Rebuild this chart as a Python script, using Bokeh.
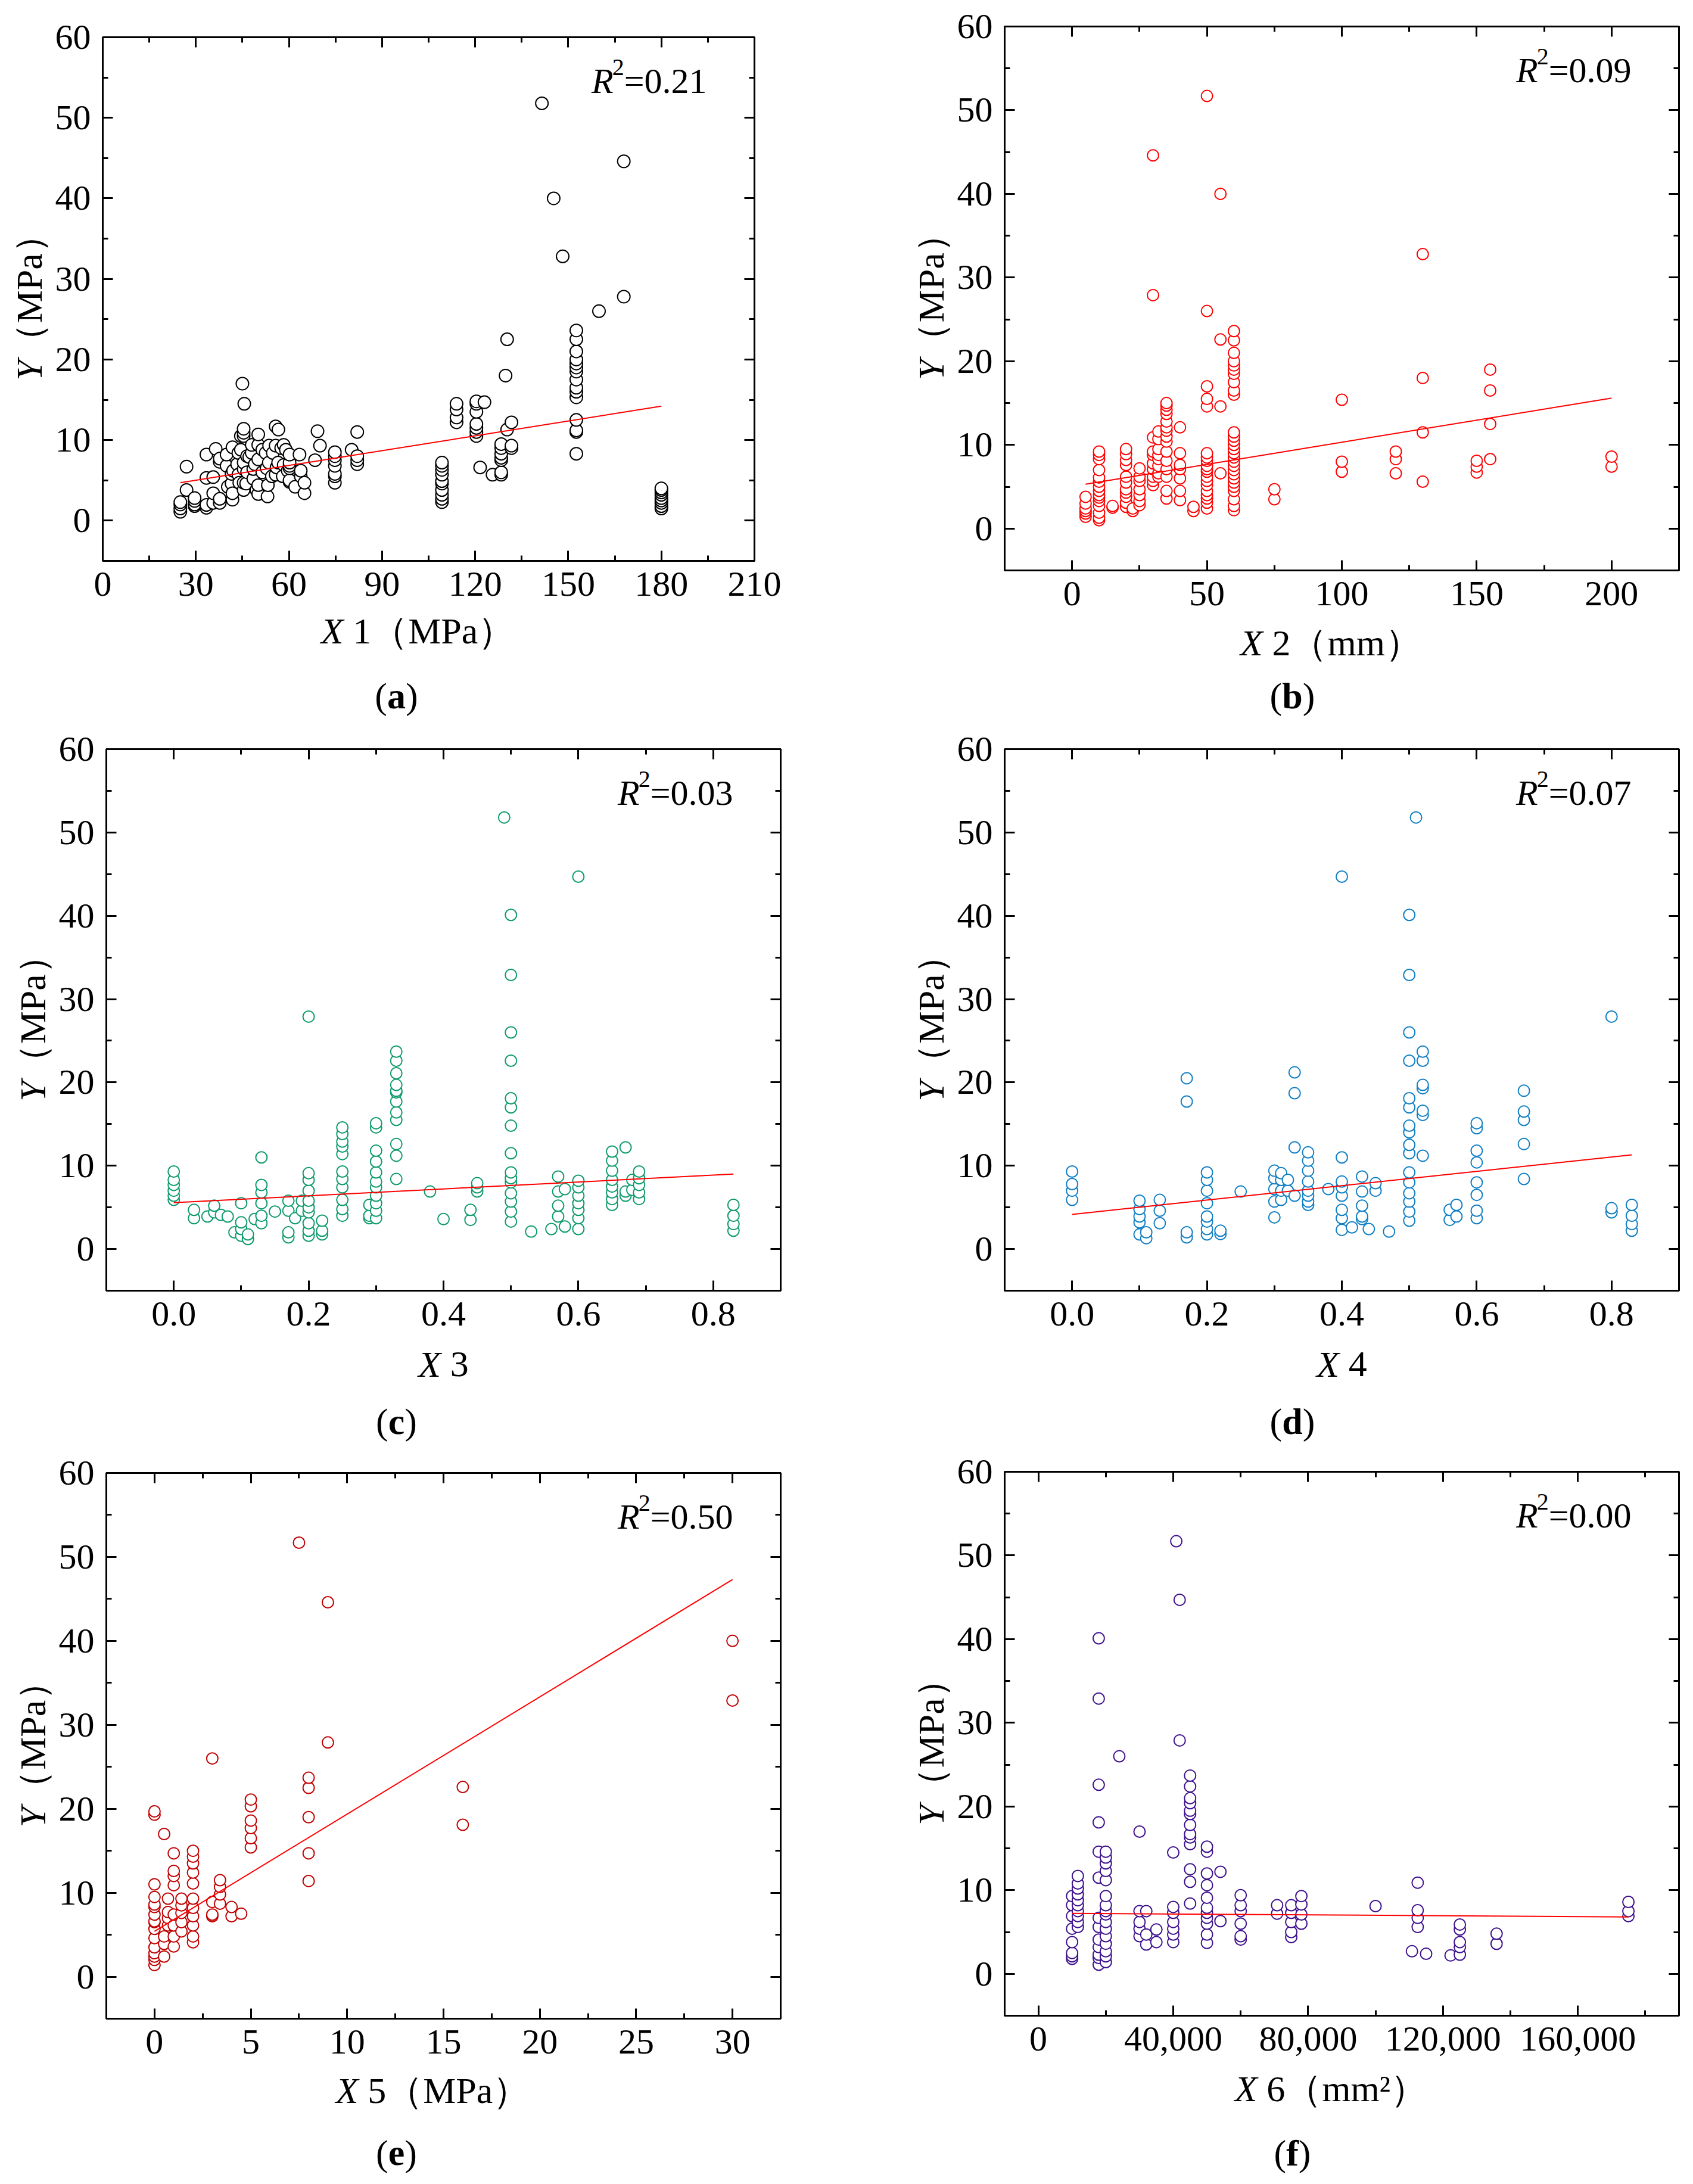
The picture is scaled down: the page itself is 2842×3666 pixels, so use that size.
from math import pi

from bokeh.embed import file_html
from bokeh.layouts import column, row
from bokeh.models import (ColumnDataSource, CustomJSTickFormatter, FixedTicker, Label,
                          LinearAxis, NumeralTickFormatter, PrintfTickFormatter)
from bokeh.plotting import figure
from bokeh.resources import INLINE

# ---- data: (x value, [Y values at that x]) ----
x1_groups = [
    (25.0, [1.1, 1.5, 2.0, 2.3]), (27.0, [3.8, 6.7]), (29.6, [1.8, 2.0, 2.45, 2.8]),
    (33.4, [1.6, 1.95, 5.3, 8.2]), (35.6, [2.2, 3.4, 5.4]), (36.4, [8.9]),
    (37.7, [2.2, 2.7, 7.3, 7.7]), (39.9, [6.8, 8.2]), (40.3, [4.2]), (41.5, [4.6, 5.8]),
    (41.8, [2.6, 3.4, 9.1]), (42.0, [6.2]), (43.3, [7.0]), (43.7, [5.7, 8.4]), (44.0, [4.7]),
    (44.5, [8.8, 10.5]), (45.0, [17.0]), (45.6, [14.5]),
    (45.4, [3.8, 4.7, 6.4, 7.2, 10.5, 10.9, 11.4]), (46.2, [4.6]), (46.5, [6.0, 8.0]),
    (47.2, [7.9]), (48.0, [8.4, 9.4]), (48.5, [5.2, 6.4]), (49.0, [7.0]), (49.5, [3.8]),
    (50.1, [3.3, 4.4, 7.6, 9.4, 10.7]), (51.4, [6.0, 8.8]), (52.5, [8.4]), (52.8, [6.5]),
    (53.1, [3.0]), (53.2, [4.4]), (53.5, [7.2]), (53.6, [9.3]), (54.5, [5.5]), (54.8, [8.4]),
    (55.7, [5.7, 9.3, 11.7]), (56.0, [6.6]), (56.5, [7.2]), (56.6, [11.3]), (57.5, [9.0]),
    (58.0, [5.5]), (58.3, [6.9, 9.4]), (59.0, [8.8]), (59.6, [6.2]),
    (60.2, [4.8, 5.0, 6.5, 6.8, 7.2, 8.2]), (62.0, [4.2]), (63.4, [8.2]), (63.8, [5.5, 6.2]),
    (65.0, [3.4, 4.7]), (68.4, [7.5]), (69.2, [11.1]), (70.0, [9.3]),
    (74.8, [4.7, 5.5, 5.8, 6.8, 7.5, 8.0, 8.5]), (80.2, [8.8]), (82.0, [7.0, 7.5, 8.0, 11.0]),
    (109.3, [2.3, 2.7, 3.2, 3.8, 4.6, 4.9, 5.7, 6.3, 6.8, 7.2]),
    (114.0, [12.2, 12.8, 13.8, 14.5]), (120.4, [10.5, 11.0, 11.5, 12.0, 13.5, 14.5, 14.8]),
    (121.6, [6.6]), (123.0, [14.7]), (125.6, [5.7]),
    (128.4, [5.7, 6.0, 7.5, 7.8, 8.3, 9.0, 9.5]), (129.8, [18.0]), (130.3, [11.3, 22.5]),
    (131.7, [9.0, 9.3, 12.2]), (141.5, [51.8]), (145.3, [40.0]), (148.2, [32.8]),
    (152.6, [8.3, 11.0, 11.2, 12.5, 15.3, 16.0, 16.5, 17.5, 18.5, 19.0, 19.5, 20.0, 21.0, 22.5, 23.6]),
    (159.9, [26.0]), (167.9, [27.8, 44.6]),
    (180.0, [1.5, 1.8, 2.2, 2.5, 2.8, 3.2, 3.5, 3.8, 4.0]),
]
x1_fit_x = [25.0, 180.0]
x1_fit_y = [4.7, 14.2]

x2_groups = [
    (5, [1.4, 1.8, 2.1, 2.4, 3.0, 3.8]),
    (10, [1.0, 1.3, 1.9, 2.7, 3.3, 3.7, 4.0, 4.5, 5.0, 5.6, 6.1, 7.0, 8.3, 8.8, 9.2]),
    (15, [2.5, 2.7]),
    (20, [2.6, 3.1, 3.8, 4.3, 4.7, 5.5, 6.2, 7.6, 8.2, 8.9, 9.5]),
    (22.5, [2.1, 2.4]),
    (25, [2.8, 3.3, 4.0, 4.7, 5.7, 6.2, 7.2]),
    (30, [5.2, 5.7, 6.2, 7.1, 7.8, 8.8, 9.2, 10.9, 27.9, 44.6]),
    (32, [6.2, 6.6, 7.5, 8.3, 8.8, 9.5, 10.7, 11.6]),
    (35, [3.6, 4.5, 6.2, 7.1, 8.1, 9.2, 10.4, 11.0, 11.7, 12.1, 12.8, 13.7, 14.2, 14.7, 15.0]),
    (40, [3.4, 4.5, 6.0, 7.1, 7.6, 9.0, 12.1]),
    (45, [2.1, 2.6]),
    (50, [2.4, 3.1, 3.6, 4.0, 4.5, 5.2, 5.7, 6.2, 6.8, 7.1, 7.5, 8.1, 8.5, 9.0, 14.6, 15.5, 17.0, 26.0, 51.7]),
    (55, [6.6, 14.6, 22.6, 40.0]),
    (60, [2.2, 2.7, 3.5, 4.5, 5.0, 5.5, 6.0, 6.5, 7.0, 7.5, 8.0, 8.5, 9.0, 9.5, 10.0, 10.5,
          11.0, 11.5, 16.0, 16.5, 17.5, 18.5, 19.0, 19.5, 20.0, 21.0, 22.5, 23.6]),
    (75, [3.5, 4.7]), (100, [6.8, 8.0, 15.4]), (120, [6.6, 8.3, 9.2]),
    (130, [5.6, 11.5, 18.0, 32.8]), (150, [6.7, 7.4, 8.1]), (155, [8.3, 12.5, 16.5, 19.0]),
    (200, [7.4, 8.6]),
]
x2_fit_x = [5.0, 200.0]
x2_fit_y = [5.3, 15.6]

x3_groups = [
    (0.0, [5.9, 6.4, 7.0, 7.7, 8.3, 9.3]), (0.03, [3.7, 4.7]), (0.05, [3.9]), (0.06, [4.4, 5.2]),
    (0.07, [4.1]), (0.08, [3.9]), (0.09, [2.0]), (0.10, [1.6, 2.4, 3.2, 5.5]), (0.11, [1.2, 1.75]),
    (0.12, [3.6]), (0.13, [3.1, 4.0, 5.5, 6.8, 7.7, 11.0]), (0.15, [4.5]),
    (0.17, [1.4, 2.0, 4.6, 5.8]), (0.18, [3.7]), (0.19, [4.6, 5.8]),
    (0.20, [1.6, 2.2, 3.1, 4.4, 5.0, 5.8, 7.0, 8.3, 9.1, 27.9]), (0.22, [1.75, 2.2, 3.4]),
    (0.25, [4.0, 4.8, 5.9, 7.4, 8.4, 9.3, 11.4, 12.3, 12.9, 13.8, 14.6]), (0.29, [3.7, 4.0, 5.3]),
    (0.30, [3.7, 4.6, 5.5, 6.4, 7.4, 8.1, 9.2, 10.5, 11.8, 14.6, 15.1]),
    (0.33, [8.4, 11.2, 12.6, 15.5, 16.4, 17.7, 18.8, 19.0, 19.7, 21.1, 22.6, 23.7]),
    (0.38, [6.9]), (0.40, [3.6]), (0.44, [3.5, 4.7]), (0.45, [6.9, 7.4, 7.9]), (0.49, [51.8]),
    (0.50, [3.3, 4.5, 5.7, 6.7, 8.0, 8.5, 9.2, 11.5, 14.8, 17.0, 18.1, 22.6, 26.0, 32.9, 40.1]),
    (0.53, [2.1]), (0.56, [2.4]), (0.57, [3.9, 5.2, 6.9, 8.7]), (0.58, [2.7, 7.2]),
    (0.60, [2.4, 3.7, 4.7, 5.5, 6.4, 7.4, 8.2, 44.7]),
    (0.65, [5.3, 6.0, 6.8, 7.5, 8.3, 9.4, 10.6, 11.7]), (0.67, [6.4, 6.9, 12.2]),
    (0.68, [7.1, 8.3]), (0.69, [6.0, 6.8, 7.7, 8.5, 9.3]), (0.83, [2.2, 3.0, 4.0, 5.3]),
]
x3_fit_x = [0.0, 0.83]
x3_fit_y = [5.56, 9.0]

x4_groups = [
    (0.0, [5.9, 7.0, 7.8, 9.3]), (0.10, [1.75, 3.2, 3.9, 4.8, 5.8]), (0.11, [1.3, 2.0]),
    (0.13, [3.1, 4.6, 5.9]), (0.17, [1.4, 2.0, 17.7, 20.5]),
    (0.20, [1.75, 2.4, 3.3, 3.9, 5.5, 7.0, 8.3, 9.2]), (0.22, [1.8, 2.2]), (0.25, [6.9]),
    (0.30, [3.8, 5.7, 7.2, 8.5, 9.4]), (0.31, [5.9, 7.0, 8.3, 9.1]), (0.32, [7.0, 8.3]),
    (0.33, [6.4, 12.2, 18.7, 21.2]), (0.35, [5.3, 5.7, 6.4, 7.0, 8.1, 9.4, 10.6, 11.6]),
    (0.38, [7.2]), (0.40, [2.3, 3.7, 4.7, 6.4, 7.4, 8.1, 11.0, 44.7]), (0.415, [2.6]),
    (0.43, [3.6, 3.9, 5.2, 6.9, 8.7]), (0.44, [2.4]), (0.45, [7.0, 7.9]), (0.47, [2.1]),
    (0.50, [3.4, 4.5, 5.7, 6.7, 8.0, 9.2, 11.5, 12.5, 14.0, 14.8, 17.0, 18.1, 22.6, 26.0, 32.9, 40.1]),
    (0.51, [51.8]), (0.52, [11.2, 16.1, 16.6, 19.3, 19.7, 22.6, 23.7]), (0.56, [3.5, 4.7]),
    (0.57, [3.9, 5.3]), (0.60, [3.7, 4.6, 6.5, 8.0, 10.4, 11.8, 14.5, 15.1]),
    (0.67, [8.4, 12.6, 15.5, 16.5, 19.0]), (0.80, [4.4, 4.9, 27.9]), (0.83, [2.2, 3.0, 4.0, 5.3]),
]
x4_fit_x = [0.0, 0.83]
x4_fit_y = [4.16, 11.3]

x5_groups = [
    (0.0, [1.4, 2.0, 2.4, 2.8, 3.5, 4.6, 5.7, 6.5, 6.6, 7.4, 8.3, 8.6, 9.5, 11.0, 19.3, 19.7]),
    (0.5, [2.4, 3.9, 4.8, 17.0]), (0.7, [6.1, 7.0, 7.7, 9.3]),
    (1.0, [3.6, 4.8, 6.1, 7.4, 10.9, 12.0, 12.6, 14.7]), (1.4, [5.4, 6.5, 7.6, 8.5, 9.3]),
    (2.0, [4.1, 4.8, 6.1, 7.2, 8.2, 9.3, 11.1, 12.4, 13.5, 14.3, 15.0]),
    (3.0, [7.2, 7.4, 8.9, 26.0]), (3.4, [8.7, 9.8, 10.7, 11.5]), (4.0, [7.2, 8.3]), (4.5, [7.5]),
    (5.0, [15.4, 16.5, 17.7, 18.6, 20.3, 21.1]), (7.5, [51.7]),
    (8.0, [11.4, 14.7, 19.0, 22.5, 23.7]), (9.0, [27.9, 44.6]), (16.0, [18.1, 22.6]),
    (30.0, [32.9, 40.0]),
]
x5_fit_x = [0.0, 30.0]
x5_fit_y = [5.4, 47.3]

x6_groups = [
    (10000, [1.8, 2.1, 2.5, 3.8, 5.4, 6.9, 8.2, 9.3]),
    (11700, [5.6, 6.2, 6.9, 7.5, 8.2, 8.8, 9.5, 10.2, 10.8, 11.7]),
    (17900, [1.1, 1.9, 2.3, 3.2, 4.1, 5.6, 6.7, 11.5, 14.6, 18.1, 22.6, 32.9, 40.1]),
    (20000, [1.4, 2.1, 2.7, 3.6, 4.5, 5.4, 6.2, 7.1, 7.5, 8.2, 9.3, 11.2, 12.3, 13.2, 13.9, 14.6]),
    (24000, [26.0]), (30000, [4.5, 5.4, 6.2, 7.5, 17.0]), (32000, [3.5, 4.7, 7.5]),
    (35000, [3.8, 5.3]), (40000, [3.8, 4.7, 5.4, 6.2, 7.3, 8.0, 14.5]), (40900, [51.7]),
    (41900, [27.9, 44.7]),
    (45000, [8.4, 11.0, 12.5, 15.5, 16.3, 16.7, 17.8, 19.1, 19.5, 20.4, 21.0, 22.4, 23.7]),
    (50000, [3.7, 4.7, 6.0, 6.7, 7.3, 7.9, 9.1, 10.6, 12.0, 14.6, 15.2]), (54000, [6.3, 12.2]),
    (60000, [4.1, 4.5, 6.0, 7.5, 8.2, 9.4]), (70800, [7.2, 8.2]),
    (75000, [4.4, 5.0, 6.2, 7.3, 8.2]), (78000, [6.0, 7.1, 8.3, 9.3]), (100000, [8.1]),
    (110800, [2.7]), (112500, [5.6, 6.7, 7.6, 10.9]), (115000, [2.4]), (122250, [2.2]),
    (125000, [2.3, 3.2, 3.8, 5.3, 5.9]), (135900, [3.6, 4.8]), (175000, [6.9, 7.5, 8.6]),
]
x6_fit_x = [10000.0, 175000.0]
x6_fit_y = [7.23, 6.8]

r2_labels = ["0.21", "0.09", "0.03", "0.07", "0.50", "0.00"]

SERIF = "Liberation Serif"
TICK_PX = 60
TITLE_PX = 62
CELL_W = 1421
AX_LEFT = 84      # room for the y tick labels inside the plot figure
AX_BOTTOM = 84    # room for the x tick labels inside the plot figure
LIFT = 20         # Bokeh draws "alphabetic" labels a bit low; lift them back
Y_TITLE_DROP = 65  # rotated title lands high in the strip; push it back down
# advance widths (em) of Times-metric glyphs used in the composed labels
EM = {" ": 0.25, "（": 1.0, "）": 1.0, "M": 0.889, "P": 0.556, "a": 0.444, "m": 0.778,
      "²": 0.3, "=": 0.564, ".": 0.25}
Y_TICKS = [0, 10, 20, 30, 40, 50, 60]
Y_MINOR = [-5, 5, 15, 25, 35, 45, 55]


def text_w(s, px):
    return sum(EM.get(ch, 0.5) for ch in s) * px


def put(p, x, y, text, px, style="normal", align="left", angle=0.0, baseline="alphabetic"):
    if baseline == "alphabetic":
        y = y + LIFT
    p.add_layout(Label(x=x, y=y, x_units="screen", y_units="screen", text=text,
                       text_font=SERIF, text_font_size=f"{px}px", text_font_style=style,
                       text_align=align, text_baseline=baseline, text_color="black",
                       angle=angle))


def text_fig(w, h):
    f = figure(width=w, height=h, x_range=(0, 1), y_range=(0, 1), min_border=0,
               x_axis_location=None, y_axis_location=None,
               output_backend="svg", toolbar_location=None)
    f.grid.visible = False
    f.outline_line_color = None
    return f


def style_axis(ax, ticker, labels=True, standoff=20):
    ax.ticker = ticker
    ax.axis_line_width = 3
    ax.axis_line_color = "black"
    ax.major_tick_line_width = 3
    ax.minor_tick_line_width = 3
    ax.major_tick_in = 17
    ax.major_tick_out = 0
    ax.minor_tick_in = 9
    ax.minor_tick_out = 0
    ax.major_label_text_font = SERIF
    ax.major_label_text_color = "black"
    if labels:
        ax.major_label_text_font_size = f"{TICK_PX}px"
        ax.major_label_standoff = standoff
    else:
        ax.major_label_text_font_size = "0px"
        ax.major_label_standoff = 0
        ax.formatter = CustomJSTickFormatter(code="return ''")


def make_cell(groups, color, x_range, x_major, x_minor, fit_x, fit_y, r2, x_num, x_unit,
              letter, left, right, top, fw, fh, row_h, title_off, title_dx, letter_off,
              letter_cx, fmt=None, mark_size=19):
    strip_w = left - AX_LEFT
    main_h = top + fh + AX_BOTTOM
    p = figure(width=CELL_W - strip_w, height=main_h,
               x_range=x_range, y_range=(-5, 60),
               min_border_left=AX_LEFT, min_border_right=right,
               min_border_top=top, min_border_bottom=AX_BOTTOM,
               output_backend="svg", toolbar_location=None)
    p.grid.visible = False
    p.outline_line_color = "black"
    p.outline_line_width = 3

    style_axis(p.xaxis[0], FixedTicker(ticks=x_major, minor_ticks=x_minor), standoff=19)
    style_axis(p.yaxis[0], FixedTicker(ticks=Y_TICKS, minor_ticks=Y_MINOR), standoff=20)
    if fmt is not None:
        p.xaxis[0].formatter = fmt
    top_ax = LinearAxis()
    style_axis(top_ax, FixedTicker(ticks=x_major, minor_ticks=x_minor), labels=False)
    p.add_layout(top_ax, "above")
    right_ax = LinearAxis()
    style_axis(right_ax, FixedTicker(ticks=Y_TICKS, minor_ticks=Y_MINOR), labels=False)
    p.add_layout(right_ax, "right")

    xs = [x for x, ys in groups for _ in ys]
    ys = [y for _, yl in groups for y in yl]
    src = ColumnDataSource(dict(x=xs, y=ys))
    p.scatter("x", "y", source=src, marker="circle", size=mark_size,
              fill_color="white", line_color=color, line_width=2)
    p.line(fit_x, fit_y, line_color="red", line_width=2)

    # R^2 annotation inside the frame
    xr = fw - 80
    base = fh - 93
    rest = "=" + r2
    w_rest = text_w(rest, 60)
    put(p, xr, base, rest, 60, align="right")
    put(p, xr - w_rest, base + 23, "2", 40, align="right")
    put(p, xr - w_rest - 18, base, "R", 60, style="italic", align="right")

    # y title strip: italic Y + （MPa）, rotated, each piece centred on its own spot
    ys_fig = text_fig(strip_w, main_h)
    wy = 0.556 * TITLE_PX
    w_unit = text_w("（MPa）", TITLE_PX)
    c = AX_BOTTOM + fh / 2 - 18 - Y_TITLE_DROP
    s0 = c - (wy + w_unit) / 2
    mx = left - 124
    put(ys_fig, mx, s0 + wy / 2, "Y", TITLE_PX, style="italic", align="center",
        angle=pi / 2, baseline="middle")
    put(ys_fig, mx, s0 + wy + w_unit / 2, "（MPa）", TITLE_PX, align="center",
        angle=pi / 2, baseline="middle")

    # bottom strip: x title and panel letter
    hb = row_h - main_h
    bf = text_fig(CELL_W, hb)
    wx = 0.611 * TITLE_PX
    gap = 0.25 * TITLE_PX
    rest_x = x_num + x_unit
    total = wx + gap + text_w(rest_x, TITLE_PX)
    split = left + fw / 2 + title_dx - total / 2 + wx
    ty = hb - (title_off - AX_BOTTOM)
    put(bf, split, ty, "X", TITLE_PX, style="italic", align="right")
    put(bf, split + gap, ty, rest_x, TITLE_PX, align="left")

    lpx = 62
    wl = {"a": 0.5, "b": 0.556, "c": 0.444, "d": 0.556, "e": 0.444, "f": 0.333}[letter] * lpx
    ly = hb - (letter_off - AX_BOTTOM)
    put(bf, letter_cx - wl / 2, ly, "(", lpx, align="right")
    put(bf, letter_cx, ly, letter, lpx, style="bold", align="center")
    put(bf, letter_cx + wl / 2, ly, ")", lpx, align="left")

    return column(row(ys_fig, p), bf)


ca = make_cell(x1_groups, "black", (0, 210), [0, 30, 60, 90, 120, 150, 180, 210],
               [15, 45, 75, 105, 135, 165, 195], x1_fit_x, x1_fit_y, r2_labels[0],
               "1", "（MPa）", "a", 172, 155, 62, 1094, 879, 1215, 137, -18, 246, 665,
               mark_size=21)
cb = make_cell(x2_groups, "#FF0000", (-25, 225), [0, 50, 100, 150, 200],
               [-25, 25, 75, 125, 175, 225], x2_fit_x, x2_fit_y, r2_labels[1],
               "2", "（mm）", "b", 265, 24, 44, 1132, 913, 1215, 141, -18, 230, 748)
cc = make_cell(x3_groups, "#0E9A6E", (-0.1, 0.9), [0.0, 0.2, 0.4, 0.6, 0.8],
               [-0.1, 0.1, 0.3, 0.5, 0.7, 0.9], x3_fit_x, x3_fit_y, r2_labels[2],
               "3", "", "c", 178, 111, 42, 1132, 909, 1220, 143, 0, 239, 665,
               fmt=PrintfTickFormatter(format="%.1f"))
cd = make_cell(x4_groups, "#0F7FC4", (-0.1, 0.9), [0.0, 0.2, 0.4, 0.6, 0.8],
               [-0.1, 0.1, 0.3, 0.5, 0.7, 0.9], x4_fit_x, x4_fit_y, r2_labels[3],
               "4", "", "d", 265, 24, 42, 1132, 909, 1220, 143, 0, 239, 748,
               fmt=PrintfTickFormatter(format="%.1f"))
ce = make_cell(x5_groups, "#C00000", (-2.5, 32.5), [0, 5, 10, 15, 20, 25, 30],
               [-2.5, 2.5, 7.5, 12.5, 17.5, 22.5, 27.5, 32.5], x5_fit_x, x5_fit_y, r2_labels[4],
               "5", "（MPa）", "e", 178, 111, 37, 1132, 916, 1231, 140, -18, 245, 665)
cf = make_cell(x6_groups, "#3D118C", (-10000, 190000), [0, 40000, 80000, 120000, 160000],
               [20000, 60000, 100000, 140000, 180000], x6_fit_x, x6_fit_y, r2_labels[5],
               "6", "（mm²）", "f", 265, 24, 35, 1132, 913, 1231, 142, -18, 250, 748,
               fmt=NumeralTickFormatter(format="0,0"))

layout = column(row(ca, cb), row(cc, cd), row(ce, cf))
open("out.html", "w").write(file_html(layout, INLINE))
